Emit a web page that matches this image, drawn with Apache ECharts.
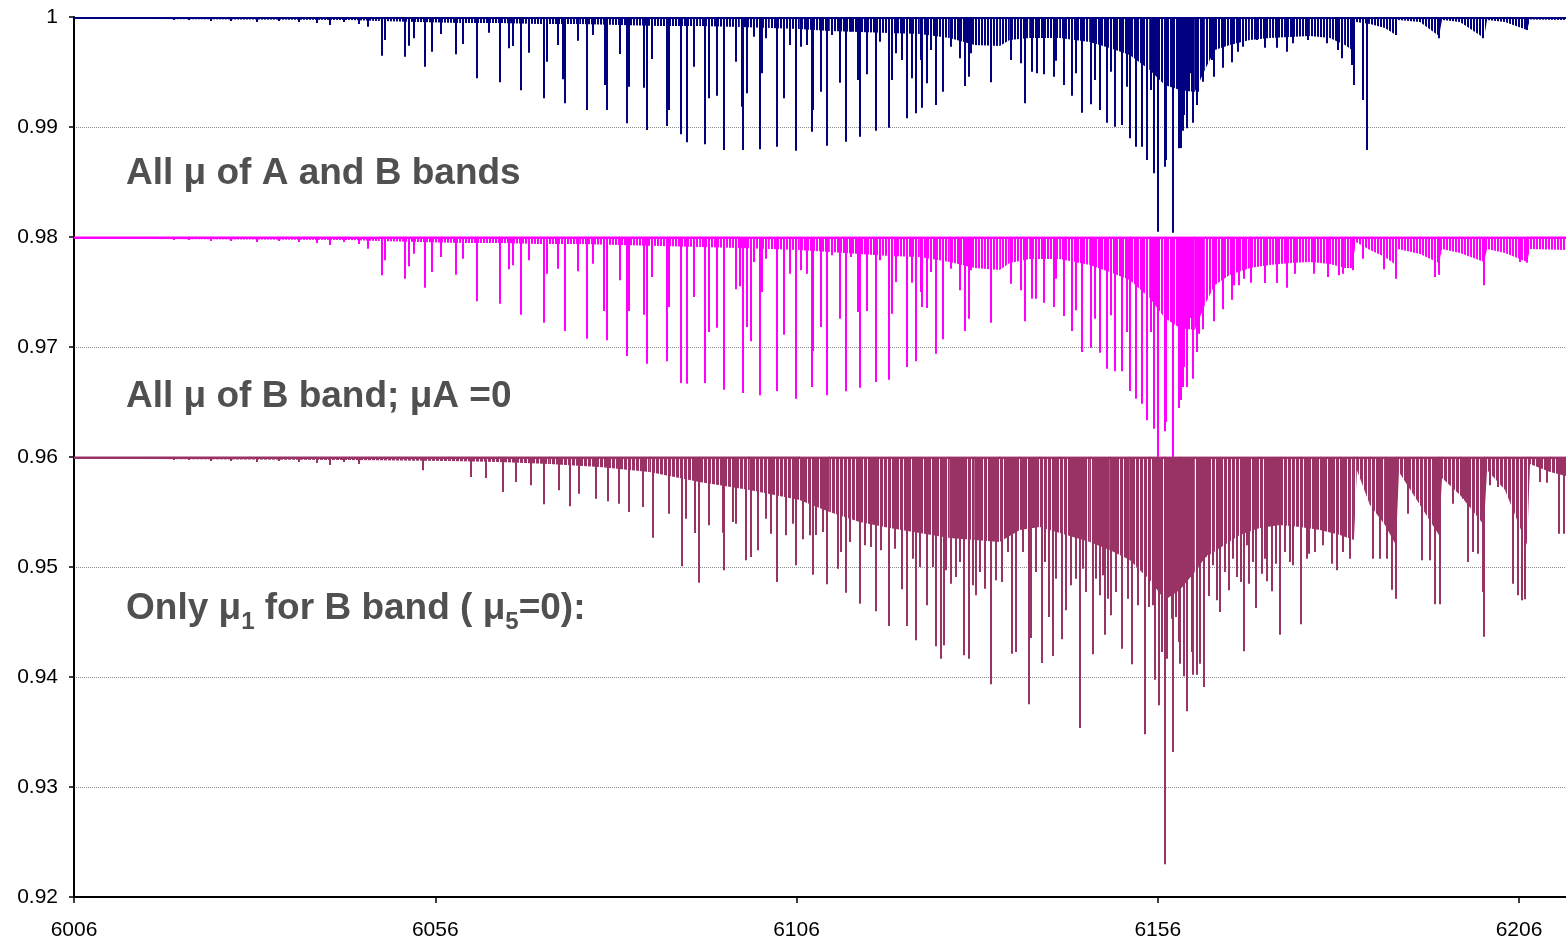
<!DOCTYPE html>
<html><head><meta charset="utf-8">
<script src="https://cdn.jsdelivr.net/npm/echarts@6/dist/echarts.min.js"></script>
<style>html,body{margin:0;padding:0;background:#fff}#c{width:1566px;height:943px}</style>
</head><body><div id="c"></div>
<script>
// ---- axis settings ----
const xMin = 6006, xMax = 6212.5, xStep = 50;
const yMin = 0.92, yMax = 1, yStep = 0.01;

// ---- baselines (continuum levels of the three offset spectra) ----
const baseA = 1.00, baseB = 0.98, baseC = 0.96;

// ---- annotation texts ----
const labelA = 'All μ of A and B bands';
const labelB = 'All μ of B band; μA =0';
const labelC = ['Only μ', '1', ' for B band ( μ', '5', '=0):'];

// ---- dense weak-line "forest" envelope (wavelength, intensity) ----
const floorWlAB = [6006,6016.39,6030.24,6044.09,6048.24,6053.78,6059.32,6064.86,6070.40,6075.94,
  6081.48,6087.02,6092.57,6098.11,6102.26,6106.42,6110.57,6114.73,6118.88,6123.04,
  6127.19,6130.65,6134.12,6135.50,6138.27,6142.43,6146.58,6149.35,6152.12,6154.89,
  6156.97,6159.05,6161.12,6162.51,6163.89,6165.97,6168.74,6171.51,6174.28,6177.05,
  6179.82,6181.90,6182.87,6183.42,6185.36,6187.44,6188.96,6189.24,6192.29,6194.92,
  6195.34,6197.83,6201.15,6201.57,6204.06,6207.11,6207.52,6212.51];
const floorA = [0.99982,0.99982,0.99977,0.99973,0.99964,0.99955,0.99945,0.99945,0.99936,0.99936,
  0.99927,0.99918,0.99918,0.99909,0.999,0.99891,0.99873,0.99864,0.99855,0.99845,
  0.99809,0.99745,0.99736,0.99791,0.99809,0.99809,0.99773,0.99718,0.99655,0.99518,
  0.99382,0.99336,0.99318,0.99518,0.997,0.99745,0.99791,0.99809,0.99818,0.99827,
  0.99809,0.99745,0.997,0.99955,0.99936,0.999,0.99836,0.99973,0.99955,0.99827,
  0.99973,0.99955,0.99809,0.99973,0.99955,0.99882,0.99977,0.99973];
const floorB = [0.97982,0.97982,0.97977,0.97973,0.97964,0.97955,0.97945,0.97945,0.97936,0.97936,
  0.97927,0.97918,0.97909,0.979,0.97891,0.97882,0.97864,0.97845,0.97827,0.97818,
  0.97773,0.97718,0.977,0.97764,0.978,0.978,0.97745,0.97682,0.97609,0.97445,
  0.97264,0.97173,0.97155,0.97382,0.97564,0.97655,0.97718,0.97745,0.97764,0.97773,
  0.97755,0.97718,0.97718,0.97955,0.97882,0.97818,0.97745,0.97891,0.97845,0.97764,
  0.97891,0.97855,0.97773,0.97891,0.97855,0.97773,0.97891,0.97882];
const floorWlC = [6006,6016.39,6030.24,6044.09,6051.01,6057.94,6064.86,6071.79,6078.71,6085.64,
  6092.57,6099.49,6106.42,6110.57,6114.73,6118.88,6123.04,6127.19,6130.65,6134.12,
  6136.89,6139.66,6142.43,6146.58,6149.35,6152.12,6154.89,6156.97,6159.05,6161.12,
  6162.51,6164.59,6167.36,6170.13,6172.90,6175.67,6178.44,6181.21,6183.15,6183.56,
  6185.36,6187.44,6188.96,6189.38,6192.29,6194.92,6195.34,6197.83,6201.15,6201.57,
  6204.06,6207.11,6207.52,6210.29,6212.51];
const floorC = [0.95982,0.95982,0.95977,0.95973,0.95968,0.95964,0.95955,0.95936,0.95909,0.95864,
  0.95773,0.957,0.95609,0.955,0.95409,0.95355,0.95309,0.95264,0.95245,0.95227,
  0.95336,0.95364,0.95309,0.95227,0.95155,0.95064,0.94882,0.947,0.94791,0.94955,
  0.95082,0.95173,0.95291,0.95355,0.95382,0.95364,0.95336,0.95291,0.95245,0.95882,
  0.95564,0.95382,0.952,0.95864,0.95564,0.95291,0.95809,0.95655,0.95382,0.95882,
  0.957,0.952,0.95936,0.95864,0.95827];

// ---- individual absorption lines [wavelength, intensity at line bottom] ----
const linesA = [
 [6008.91,0.99982],[6015.14,0.99982],[6019.85,0.99973],[6021.93,0.99973],[6024.98,0.99964],[6027.75,0.99964],[6031.35,0.99955],[6034.39,0.99964],[6037.16,0.99955],[6039.66,0.99945],[6041.46,0.99927],[6043.40,0.99955],[6045.47,0.99936],
 [6048.62,0.99648],[6051.80,0.99639],[6052.36,0.99739],[6054.57,0.99548],[6055.54,0.99685],[6058.87,0.99661],[6061.78,0.99443],[6065.00,0.99406],[6067.87,0.99334],[6071.10,0.99261],
 [6073.63,0.99434],[6073.96,0.99215],[6076.96,0.99155],[6079.55,0.99382],[6079.73,0.99155],[6082.50,0.99034],[6082.77,0.99366],[6084.95,0.99357],[6085.27,0.98973],[6086.06,0.99618],
 [6088.04,0.99009],[6088.41,0.99155],[6090.07,0.98934],[6090.86,0.98861],[6091.87,0.99548],[6093.40,0.98843],[6093.95,0.99261],[6095.02,0.99285],[6096.03,0.98791],[6097.65,0.99594],
 [6098.42,0.99185],[6098.66,0.98791],[6099.12,0.99306],[6100.97,0.98797],[6101.19,0.99488],[6103.33,0.98821],[6104.20,0.99261],[6105.86,0.98785],[6108.17,0.98957],[6108.35,0.99155],
 [6109.42,0.99321],[6110.25,0.9883],[6112.05,0.99403],[6112.79,0.98866],[6114.49,0.99427],[6114.73,0.98912],[6115.79,0.99479],[6117.04,0.98966],[6118.74,0.98994],[6119.25,0.99427],
 [6121.33,0.99079],[6122.02,0.99443],[6122.58,0.99125],[6123.35,0.99176],[6124.10,0.99397],[6125.35,0.992],[6126.26,0.99321],[6129.27,0.99373],[6129.82,0.99457],[6132.97,0.99406],
 [6137.58,0.99215],[6138.65,0.99503],[6139.34,0.99488],[6140.21,0.99479],[6141.64,0.99457],[6142.98,0.99382],[6144.19,0.99285],[6145.52,0.9913],[6146.72,0.99206],[6147.97,0.99155],
 [6149.03,0.99039],[6150.14,0.99003],[6151.11,0.99018],[6151.75,0.99366],[6152.22,0.98897],[6152.95,0.98821],[6153.88,0.98821],[6154.57,0.987],[6155.49,0.98579],[6156.04,0.98048],
 [6156.97,0.98639],[6157.20,0.987],[6158.04,0.98039],[6158.95,0.98806],[6159.19,0.98809],[6159.50,0.98966],[6159.60,0.99109],[6160.11,0.98988],[6160.53,0.99488],[6160.81,0.99039],
 [6161.36,0.992],[6161.58,0.99321],[6162.19,0.99412],[6163.44,0.99609],[6163.80,0.99457],[6165.04,0.99539],[6166.21,0.99588],[6167.12,0.99685],[6167.81,0.9973],[6170.82,0.99721],
 [6172.44,0.99721],[6173.83,0.99685],[6181.53,0.99625],[6183.19,0.99382],[6184.43,0.99245],[6184.91,0.98791],[6188.96,0.99836],[6194.96,0.99806],[6201.06,0.99806],[6207.07,0.99882],
 [6105.03,0.99745],[6106.65,0.9973],[6107.48,0.99745],[6110.89,0.99836],[6113.58,0.99866],[6117.50,0.99775],[6119.81,0.9967],[6120.58,0.99609],[6123.27,0.99609],[6124.66,0.997],
 [6127.43,0.9973],[6128.67,0.99625],[6130.20,0.9967],[6135.74,0.99609],[6137.12,0.99579],[6141.87,0.99603],[6144.74,0.99488],[6147.27,0.99427],[6149.59,0.99503],[6155.13,0.99336],
 [6046.72,0.99912],[6049.07,0.99791],[6053.09,0.99806],[6056.79,0.99845],[6059.78,0.99755],[6063.48,0.99857],[6066.25,0.99715],[6066.71,0.99736],[6069.02,0.99675],[6071.47,0.99594],
 [6072.94,0.99745],[6075.81,0.99785],[6077.79,0.99836],[6081.58,0.99664],[6100.18,0.99821],[6101.80,0.99806],
 [6169.68,0.99791],[6174.74,0.99761],[6176.82,0.99791],[6179.37,0.99761],[6180.97,0.997],[6182.83,0.99564]
];
const linesB = [
 [6008.91,0.97982],[6015.14,0.97982],[6019.85,0.97973],[6021.93,0.97973],[6024.98,0.97964],[6027.75,0.97964],[6031.35,0.97955],[6034.39,0.97964],[6037.16,0.97955],[6039.66,0.97945],[6041.46,0.97927],[6043.40,0.97955],[6045.47,0.97936],
 [6048.62,0.97652],[6051.80,0.97621],[6052.36,0.97734],[6054.57,0.97539],[6055.54,0.97682],[6058.87,0.97657],[6061.78,0.97416],[6065.00,0.97394],[6067.87,0.97294],[6071.10,0.97221],
 [6073.96,0.97146],[6076.96,0.97076],[6079.41,0.97327],[6079.73,0.97061],[6082.50,0.96918],[6082.77,0.97327],[6084.95,0.97294],[6085.27,0.96848],[6088.04,0.9687],[6088.41,0.97364],
 [6090.07,0.96673],[6090.86,0.96666],[6091.87,0.97455],[6093.40,0.96673],[6093.95,0.97136],[6095.02,0.97176],[6096.03,0.96612],[6097.65,0.97525],[6098.24,0.97552],[6098.66,0.96582],
 [6099.12,0.97182],[6099.73,0.97052],[6100.97,0.96561],[6101.19,0.975],[6103.33,0.966],[6104.20,0.97112],[6105.86,0.9653],[6108.17,0.96636],[6108.35,0.96961],[6109.42,0.97182],
 [6110.25,0.96561],[6112.05,0.97257],[6112.79,0.96597],[6114.49,0.97318],[6114.73,0.9663],[6115.79,0.97327],[6117.04,0.96682],[6118.74,0.96703],[6119.25,0.97303],[6121.33,0.96818],
 [6122.02,0.97585],[6122.58,0.9687],[6123.35,0.97364],[6124.10,0.97355],[6125.35,0.96939],[6126.26,0.9707],[6128.67,0.97515],[6129.27,0.97146],[6129.82,0.97257],[6132.97,0.97221],
 [6137.58,0.97234],[6138.65,0.97439],[6139.20,0.97439],[6140.21,0.97403],[6141.64,0.97364],[6142.98,0.97282],[6144.19,0.97146],[6145.52,0.96955],[6146.82,0.96994],[6147.97,0.96948],
 [6149.03,0.96803],[6150.14,0.96779],[6151.11,0.96779],[6151.75,0.97136],[6152.22,0.966],[6152.95,0.9653],[6153.88,0.96485],[6154.57,0.96334],[6155.49,0.96257],[6156.04,0.9600],
 [6156.97,0.96234],[6157.20,0.96318],[6158.04,0.9600],[6158.95,0.96446],[6159.28,0.96518],[6159.50,0.96636],[6159.60,0.96818],[6160.11,0.96636],[6160.53,0.97264],[6160.81,0.96712],
 [6161.36,0.96955],[6161.72,0.97121],[6162.05,0.97394],[6162.19,0.97161],[6163.80,0.97234],[6164.03,0.97575],[6165.04,0.97343],[6166.21,0.9743],[6166.57,0.97561],[6167.22,0.97561],
 [6167.91,0.97621],[6168.84,0.97585],[6170.82,0.97582],[6172.44,0.97582],[6173.83,0.97539],[6174.98,0.97666],[6177.65,0.97666],[6179.50,0.97636],[6181.11,0.97652],[6181.67,0.97666],
 [6183.05,0.97697],[6184.43,0.97803],[6187.30,0.97706],[6188.96,0.97621],[6194.37,0.97636],[6194.96,0.97657],[6201.15,0.97561],[6206.14,0.97773],[6207.07,0.97766],
 [6105.03,0.97666],[6106.65,0.97697],[6107.48,0.97666],[6110.89,0.97834],[6113.58,0.97818],[6117.50,0.97788],[6119.81,0.97591],[6123.27,0.975],[6124.66,0.97682],[6127.43,0.97712],
 [6130.20,0.97697],[6135.74,0.97575],[6137.12,0.97515],[6141.87,0.97621],[6144.74,0.97334],[6147.27,0.97257],[6149.59,0.97288],[6155.13,0.97136],
 [6046.72,0.97894],[6049.07,0.97788],[6053.09,0.97848],[6056.79,0.97818],[6059.78,0.97803],[6066.25,0.97706],[6066.71,0.97743],[6069.02,0.97788],[6071.47,0.97666],[6072.94,0.97712],
 [6075.81,0.97688],[6077.79,0.97757],[6081.58,0.97606],[6086.06,0.97636],[6100.18,0.97773],[6101.80,0.97803]
];
const linesC = [
 [6008.91,0.95982],[6015.14,0.95982],[6019.85,0.95973],[6021.93,0.95973],[6024.98,0.95964],[6027.75,0.95964],[6031.35,0.95955],[6034.39,0.95964],[6037.16,0.95955],[6039.66,0.95945],[6041.46,0.95927],[6043.40,0.95955],[6045.47,0.95936],
 [6065.32,0.95682],[6071.10,0.9557],[6074.70,0.95552],[6082.87,0.955],[6086.19,0.95266],[6090.11,0.95006],[6091.97,0.95309],[6092.52,0.94857],[6093.95,0.95379],[6095.79,0.95312],
 [6096.03,0.9497],[6097.65,0.95394],[6099.03,0.95061],[6099.73,0.95091],[6100.64,0.95152],[6102.50,0.95303],[6103.33,0.94864],[6104.57,0.95288],[6105.86,0.95016],[6106.87,0.95252],
 [6108.26,0.9493],[6110.25,0.94843],[6111.72,0.94985],[6112.79,0.94766],[6114.73,0.94666],[6117.04,0.94597],[6118.74,0.94464],[6120.54,0.94797],[6121.33,0.94464],[6122.58,0.94334],
 [6124.10,0.94652],[6125.35,0.94279],[6125.94,0.94166],[6126.36,0.94288],[6127.43,0.94848],[6129.17,0.94197],[6129.82,0.94166],[6130.79,0.94743],[6132.04,0.94803],[6132.97,0.93934],
 [6134.49,0.94864],[6135.88,0.94212],[6136.43,0.94227],[6138.13,0.93752],[6138.51,0.94355],[6139.98,0.94127],[6140.90,0.94546],[6141.46,0.94191],[6142.75,0.94343],[6143.35,0.94606],
 [6145.20,0.93537],[6146.12,0.94773],[6147.00,0.94206],[6147.97,0.94743],[6148.66,0.94385],[6149.59,0.94561],[6151.11,0.94257],[6152.50,0.94116],[6154.20,0.93479],[6155.27,0.94652],
 [6155.68,0.93976],[6156.14,0.93743],[6156.65,0.94227],[6156.97,0.92298],[6157.34,0.94166],[6158.08,0.93318],[6158.59,0.94546],[6159.05,0.94121],[6159.60,0.94007],[6160.11,0.93688],
 [6160.89,0.94021],[6161.36,0.94021],[6161.82,0.94121],[6162.41,0.93909],[6163.11,0.94736],[6164.21,0.94697],[6164.59,0.94591],[6165.88,0.94788],[6166.90,0.94909],[6167.50,0.94864],
 [6167.91,0.94234],[6168.65,0.94848],[6169.53,0.94627],[6170.36,0.94939],[6171.06,0.9487],[6171.75,0.94779],[6172.90,0.94385],[6174.74,0.95016],[6175.81,0.94479],[6176.96,0.95121],
 [6180.75,0.9497],[6188.37,0.94794],[6188.92,0.94712],[6192.52,0.95061],[6194.37,0.94661],[6195.06,0.94661],[6198.98,0.95045],[6200.97,0.94773],[6201.15,0.94367],[6205.21,0.94848],
 [6205.90,0.94743],[6206.37,0.94697],[6206.83,0.94706],[6211.58,0.95303],[6212.27,0.95303],[6208.91,0.95773],[6209.84,0.95766],
 [6108.73,0.95291],[6109.64,0.95318],[6112.19,0.95136],[6113.34,0.95227],[6115.42,0.95197],[6116.35,0.95182],[6117.73,0.95152],[6119.57,0.95166],[6122.11,0.95076],[6123.04,0.95],
 [6124.88,0.95],[6126.73,0.9497],[6128.12,0.94909],[6128.58,0.95045],[6130.42,0.94834],[6131.35,0.94955],[6133.66,0.94879],[6135.27,0.95136],[6137.34,0.95136],[6139.20,0.94955],
 [6140.35,0.95045],[6141.97,0.94894],[6144.05,0.94834],[6144.74,0.94894],[6145.65,0.94985],[6147.51,0.94894],[6148.42,0.94925],[6149.12,0.94712],[6150.18,0.94773],[6151.89,0.94712],
 [6153.27,0.94652],[6154.80,0.94636],[6157.90,0.9453],[6158.95,0.94318],[6160.67,0.94227],[6163.66,0.95016],[6165.28,0.94955],
 [6162.75,0.95106],[6166.43,0.95076],[6168.28,0.95197],[6169.20,0.95045],[6170.82,0.95076],[6172.34,0.9503],[6173.59,0.95136],[6174.28,0.95045],[6176.60,0.95076],[6177.75,0.95136],
 [6178.89,0.95197],[6180.06,0.9503],[6181.66,0.95136],[6182.59,0.95076],[6185.82,0.95076],[6186.75,0.95076],[6187.68,0.95076],[6190.67,0.95485],[6193.67,0.95061],[6196.90,0.95575],
 [6198.29,0.95621],[6199.67,0.95136],[6200.36,0.95121],[6201.98,0.95743],[6203.13,0.95727],[6204.75,0.95652],
 [6054.24,0.95879],[6060.94,0.95818],[6063.02,0.95809],[6067.18,0.95773],[6069.25,0.95743],[6073.17,0.95697],[6075.94,0.95666],[6078.26,0.95621],[6079.86,0.95597],[6081.48,0.95575],
 [6084.71,0.95545],[6088.41,0.95485],[6090.72,0.95439],[6097.18,0.95409],[6101.80,0.95439],[6105.49,0.95394],[6107.80,0.95288]
];

// ---- colours ----
const colA = '#000080', colB = '#FF00FF', colC = '#993366';
const FONT = '"Liberation Sans", Arial, Helvetica, sans-serif';

// vertical-stripe texture so the dense weak-line forest reads as many thin lines
function stripe(color, on, off) {
  const c = document.createElement('canvas');
  c.width = on + off; c.height = 4;
  const g = c.getContext('2d');
  g.fillStyle = color; g.fillRect(0, 0, on, 4);
  return { image: c, repeat: 'repeat' };
}

function floorSeries(wl, vals, base, color, pattern, z) {
  const data = [];
  for (let i = 0; i < wl.length - 1; i++) data.push([wl[i], vals[i], wl[i + 1], vals[i + 1]]);
  return {
    type: 'custom', z: z, silent: true, clip: true,
    encode: { x: [0, 2], y: [1, 3] },
    data: data,
    renderItem: function (params, api) {
      const a = api.coord([api.value(0), base]);
      const b = api.coord([api.value(0), api.value(1)]);
      const c = api.coord([api.value(2), api.value(3)]);
      const d = api.coord([api.value(2), base]);
      return { type: 'group', children: [
        { type: 'polygon', shape: { points: [a, b, c, d] }, style: { fill: pattern } },
        { type: 'line', shape: { x1: a[0], y1: a[1] + 0.8, x2: d[0] + 0.5, y2: d[1] + 0.8 },
          style: { stroke: color, lineWidth: 2.4 } }
      ] };
    }
  };
}
function lineSeries(pairs, base, color, z) {
  return {
    type: 'custom', z: z, silent: true, clip: true,
    encode: { x: 0, y: 1 },
    data: pairs,
    renderItem: function (params, api) {
      const p0 = api.coord([api.value(0), base]);
      const p1 = api.coord([api.value(0), api.value(1)]);
      const x = Math.round(p0[0]);
      return { type: 'line', shape: { x1: x, y1: p0[1], x2: x, y2: p1[1] },
        style: { stroke: color, lineWidth: 2 } };
    }
  };
}

const chart = echarts.init(document.getElementById('c'), null, { renderer: 'canvas' });
chart.setOption({
  animation: false,
  backgroundColor: '#ffffff',
  textStyle: { fontFamily: FONT },
  grid: { left: 74, right: 0, top: 17, bottom: 46, containLabel: false },
  xAxis: {
    type: 'value', min: xMin, max: xMax, interval: xStep,
    axisLine: { show: true, onZero: false, lineStyle: { color: '#000', width: 2 } },
    axisTick: { show: true, length: 6, lineStyle: { color: '#000', width: 1.5 } },
    axisLabel: { fontSize: 21, color: '#000', fontFamily: FONT, margin: 23,
      showMinLabel: true, showMaxLabel: false, formatter: function (v) { return String(v); } },
    splitLine: { show: false }
  },
  yAxis: {
    type: 'value', min: yMin, max: yMax, interval: yStep,
    axisLine: { show: true, lineStyle: { color: '#000', width: 2 } },
    axisTick: { show: true, length: 5, lineStyle: { color: '#000', width: 1.5 } },
    axisLabel: { fontSize: 21, color: '#000', fontFamily: FONT, margin: 16,
      formatter: function (v) { return String(parseFloat(v.toFixed(2))); } },
    splitLine: { show: true, lineStyle: { color: '#8c8c8c', type: 'dotted', width: 1 } }
  },
  series: [
    floorSeries(floorWlC, floorC, baseC, colC, stripe(colC, 3, 1), 2),
    lineSeries(linesC, baseC, colC, 3),
    floorSeries(floorWlAB, floorB, baseB, colB, stripe(colB, 2, 1), 4),
    lineSeries(linesB, baseB, colB, 5),
    floorSeries(floorWlAB, floorA, baseA, colA, stripe(colA, 2, 1), 6),
    lineSeries(linesA, baseA, colA, 7)
  ],
  graphic: [
    { type: 'text', x: 126, y: 174, z: 100,
      style: { text: labelA, font: 'bold 37px ' + FONT, fill: '#505050', verticalAlign: 'middle', align: 'left' } },
    { type: 'text', x: 126, y: 397, z: 100,
      style: { text: labelB, font: 'bold 37px ' + FONT, fill: '#505050', verticalAlign: 'middle', align: 'left' } },
    { type: 'text', x: 126, y: 609, z: 100,
      style: {
        text: '{m|' + labelC[0] + '}{s|' + labelC[1] + '}{m|' + labelC[2] + '}{s|' + labelC[3] + '}{m|' + labelC[4] + '}',
        verticalAlign: 'middle', align: 'left',
        rich: {
          m: { font: 'bold 37px ' + FONT, fill: '#505050', lineHeight: 50 },
          s: { font: 'bold 24px ' + FONT, fill: '#505050', lineHeight: 50, verticalAlign: 'bottom' }
        }
      } }
  ]
});
</script>
</body></html>
